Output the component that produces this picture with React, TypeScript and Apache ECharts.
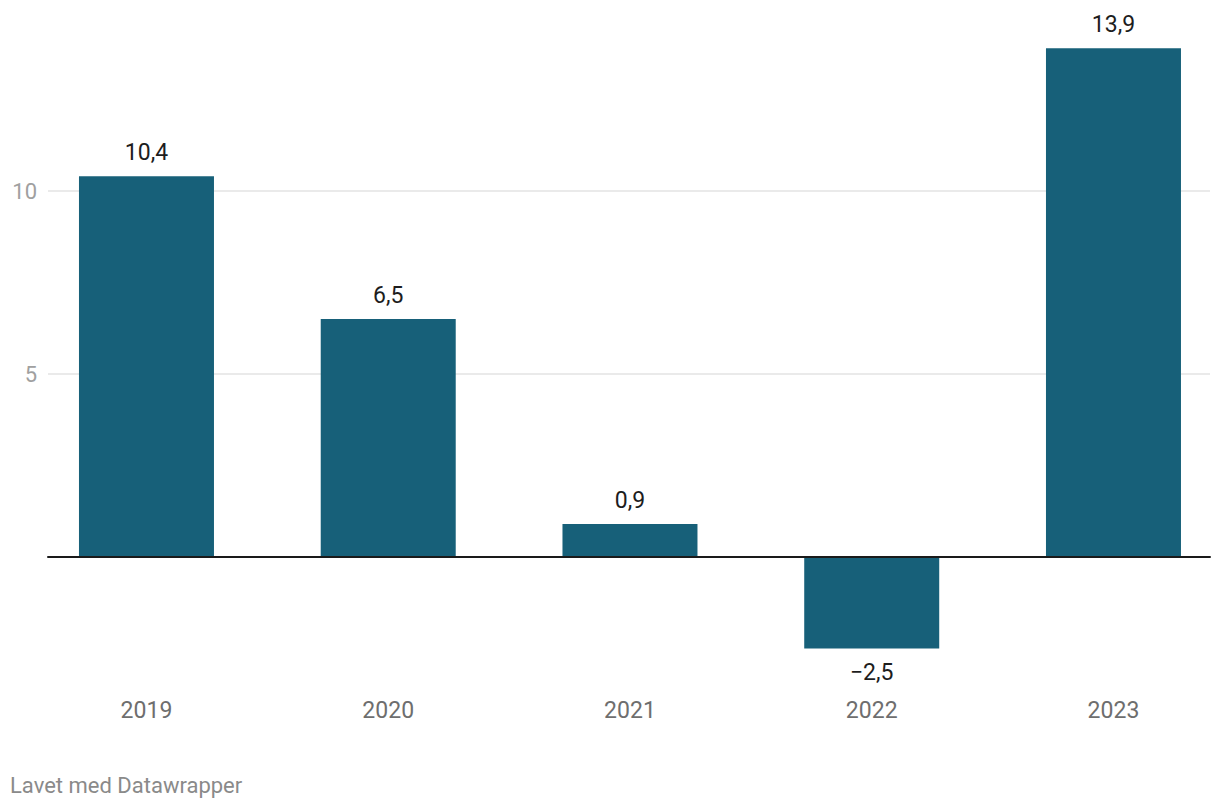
import React, { useEffect, useRef } from "react";
import * as echarts from "echarts";

const categories = ["2019", "2020", "2021", "2022", "2023"];
const values = [10.4, 6.5, 0.9, -2.5, 13.9];
const yTickLabels = [5, 10];

const FONT = "Roboto, 'Noto Sans', sans-serif";
const BAR_COLOR = "#176079";

const fmt = (v: number) => v.toFixed(1).replace(".", ",").replace("-", "\u2212");

export default function App() {
  const ref = useRef<HTMLDivElement>(null);
  useEffect(() => {
    if (!ref.current) return;
    const chart = echarts.init(ref.current, null, { renderer: "svg" });
    const barData = values.map((v) => ({
      value: v,
      label: { position: v < 0 ? "bottom" : "top", distance: v < 0 ? 13 : 12 },
    }));
    chart.setOption({
      animation: false,
      textStyle: { fontFamily: FONT },
      grid: [
        { left: 25.6, width: 1208.75, top: 8, height: 684.4 },
        { left: 48, width: 1162, top: 8, height: 732 },
      ],
      xAxis: [
        {
          gridIndex: 0,
          type: "category",
          data: categories,
          axisLine: { show: false, onZero: false },
          axisTick: { show: false },
          axisLabel: { color: "#6e6e6e", fontSize: 23, margin: 7, fontFamily: FONT },
          splitLine: { show: false },
        },
        {
          gridIndex: 1,
          type: "category",
          data: categories,
          z: 10,
          axisLine: { show: true, onZero: true, lineStyle: { color: "#1a1a1a", width: 2 } },
          axisTick: { show: false },
          axisLabel: { show: false },
          splitLine: { show: false },
        },
      ],
      yAxis: [
        {
          gridIndex: 0,
          type: "value",
          min: -3.7,
          max: 15,
          show: false,
          splitLine: { show: false },
        },
        {
          gridIndex: 1,
          type: "value",
          min: -5,
          max: 15,
          interval: 5,
          axisLine: { show: false },
          axisTick: { show: false },
          axisLabel: {
            color: "#a0a0a0",
            fontSize: 22,
            margin: 11,
            fontFamily: FONT,
            formatter: (v: number) => (yTickLabels.indexOf(v) >= 0 ? String(v) : ""),
          },
          splitLine: {
            show: true,
            showMinLine: false,
            showMaxLine: false,
            lineStyle: { color: "#e3e3e3", width: 1.5 },
          },
        },
      ],
      series: [
        {
          type: "bar",
          xAxisIndex: 0,
          yAxisIndex: 0,
          data: barData,
          barWidth: 135,
          itemStyle: { color: BAR_COLOR },
          z: 2,
          label: {
            show: true,
            color: "#1d1d1d",
            fontSize: 23,
            lineHeight: 23,
            fontFamily: FONT,
            formatter: (p: any) => fmt(p.value),
          },
        },
      ],
      graphic: [
        {
          type: "text",
          left: 10,
          top: 774,
          style: {
            text: "Lavet med Datawrapper",
            fill: "#8a8a8a",
            fontSize: 22,
            fontFamily: FONT,
          },
        },
      ],
    });
    return () => chart.dispose();
  }, []);
  return (
    <div
      style={{
        position: "absolute",
        left: 0,
        top: 0,
        width: 1220,
        height: 808,
        overflow: "hidden",
      }}
    >
      <div ref={ref} style={{ width: 1240, height: 808 }} />
    </div>
  );
}
